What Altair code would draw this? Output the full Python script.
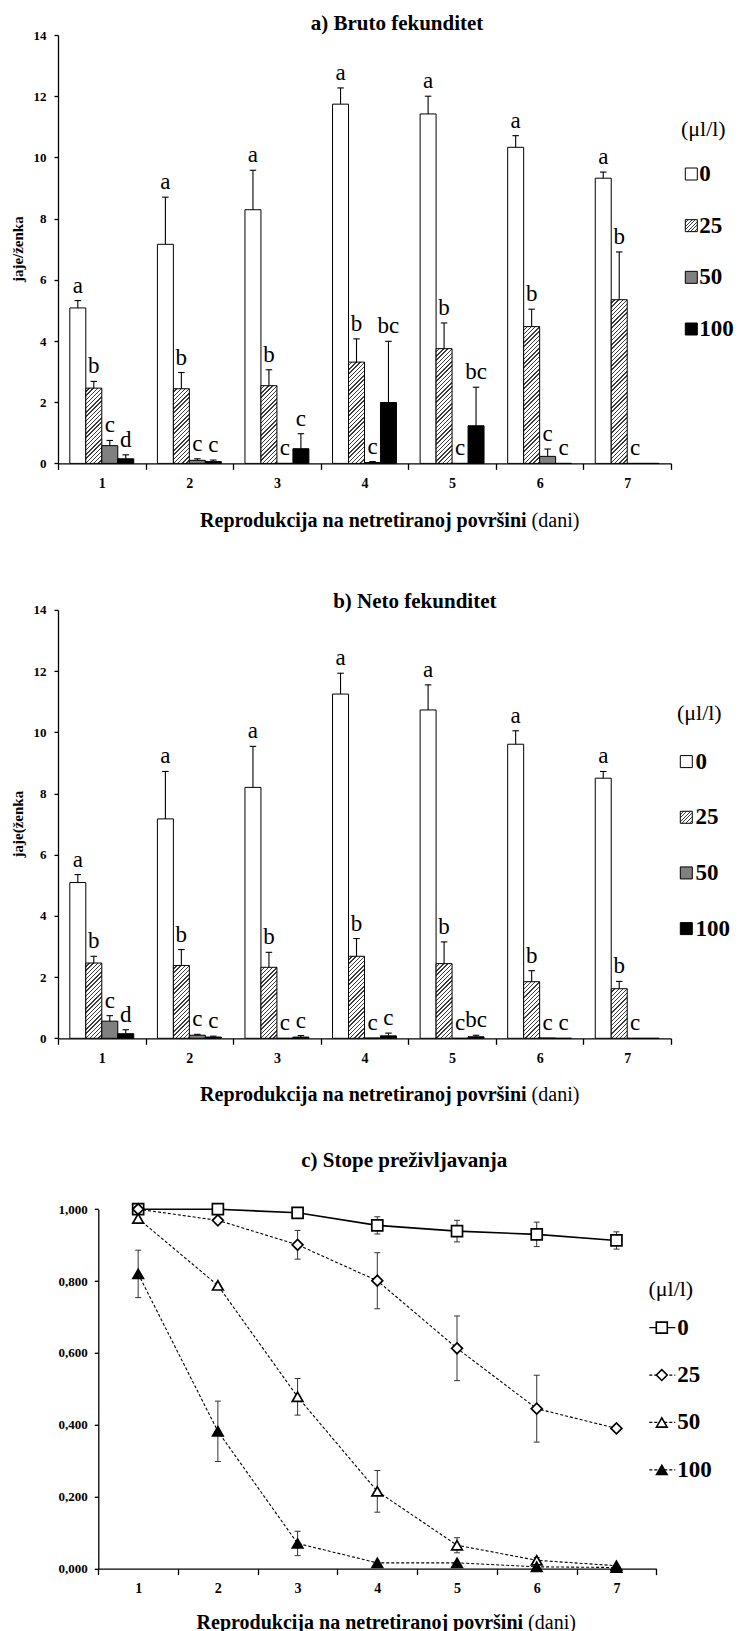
import altair as alt

# ---------------- data ----------------
days = ["1", "2", "3", "4", "5", "6", "7"]
series = ["0", "25", "50", "100"]
series_labels = ["0", "25", "50", "100"]

title_a = "a) Bruto fekunditet"
title_b = "b) Neto fekunditet"
title_c = "c) Stope preživljavanja"
ytitle_a = "jaje/ženka"
ytitle_b = "jaje(ženka"
xtitle_bold = "Reprodukcija na netretiranoj površini"
xtitle_norm = "(dani)"
legend_title = "(μl/l)"

# a) Bruto fekunditet: means and (upper) errors per concentration
bruto_0 = [5.08, 7.16, 8.29, 11.74, 11.42, 10.33, 9.32]
bruto_0_err = [0.24, 1.54, 1.29, 0.53, 0.58, 0.38, 0.20]
bruto_25 = [2.46, 2.44, 2.54, 3.31, 3.75, 4.47, 5.35]
bruto_25_err = [0.22, 0.53, 0.52, 0.76, 0.84, 0.57, 1.56]
bruto_50 = [0.58, 0.10, 0.0, 0.03, 0.0, 0.23, 0.0]
bruto_50_err = [0.17, 0.05, 0.0, 0.03, 0.0, 0.24, 0.0]
bruto_100 = [0.15, 0.06, 0.48, 1.99, 1.23, 0.0, 0.0]
bruto_100_err = [0.13, 0.05, 0.49, 2.00, 1.26, 0.0, 0.0]
bruto_let_0 = ["a", "a", "a", "a", "a", "a", "a"]
bruto_let_25 = ["b", "b", "b", "b", "b", "b", "b"]
bruto_let_50 = ["c", "c", "c", "c", "c", "c", "c"]
bruto_let_100 = ["d", "c", "c", "bc", "bc", "c", ""]

# b) Neto fekunditet
neto_0 = [5.09, 7.17, 8.20, 11.25, 10.73, 9.61, 8.50]
neto_0_err = [0.26, 1.55, 1.34, 0.68, 0.82, 0.44, 0.22]
neto_25 = [2.46, 2.38, 2.32, 2.68, 2.44, 1.85, 1.62]
neto_25_err = [0.22, 0.52, 0.49, 0.58, 0.71, 0.36, 0.24]
neto_50 = [0.56, 0.10, 0.0, 0.01, 0.0, 0.01, 0.0]
neto_50_err = [0.18, 0.03, 0.0, 0.0, 0.0, 0.0, 0.0]
neto_100 = [0.15, 0.04, 0.04, 0.08, 0.05, 0.0, 0.0]
neto_100_err = [0.13, 0.03, 0.05, 0.09, 0.05, 0.0, 0.0]
neto_let_0 = ["a", "a", "a", "a", "a", "a", "a"]
neto_let_25 = ["b", "b", "b", "b", "b", "b", "b"]
neto_let_50 = ["c", "c", "c", "c", "c", "c", "c"]
neto_let_100 = ["d", "c", "c", "c", "bc", "c", ""]

# c) Stope preživljavanja
surv_0 = [1.000, 1.000, 0.990, 0.955, 0.939, 0.930, 0.913]
surv_0_err = [0.0, 0.0, 0.0, 0.024, 0.030, 0.034, 0.024]
surv_25 = [1.000, 0.969, 0.901, 0.801, 0.613, 0.445, 0.390]
surv_25_err = [0.0, 0.0, 0.040, 0.078, 0.090, 0.093, 0.0]
surv_50 = [0.974, 0.788, 0.478, 0.215, 0.065, 0.023, 0.008]
surv_50_err = [0.0, 0.0, 0.051, 0.058, 0.021, 0.008, 0.0]
surv_100 = [0.820, 0.382, 0.070, 0.016, 0.016, 0.005, 0.003]
surv_100_err = [0.066, 0.084, 0.034, 0.0, 0.0, 0.0, 0.0]

# ---------------- layout constants ----------------
FONT = "Liberation Serif"
W_AB = 613.0
H_AB = 428.4
YMAX_AB = 14
PPU = H_AB / YMAX_AB
PAD_OUT = 0.74
BAR_W = (W_AB / len(days)) / (len(series) + 2 * PAD_OUT)
W_C = 598.3
C_LEFT = 40.3
E_C = 24.4
H_C = 359.4 + E_C
SPACING = 145.9
LETTER_SIZE = 23
LEG_SIZE = 23

SOLID_FILL = {"0": "#ffffff", "50": "#808080", "100": "#000000"}


def hatch(w, h, d=4.2, f=0.32, dark="#3c3c3c"):
    """Diagonal '/' hatching as a linear gradient in bounding-box units."""
    if h <= 0:
        return "#ffffff"
    denom = w * w + h * h
    period = d * w / denom
    stops = []
    k = 0
    while True:
        a = k * period
        b = a + (1 - f) * period
        c = (k + 1) * period
        for off, col in [(a, "#ffffff"), (b, "#ffffff"), (b, dark), (c, dark)]:
            stops.append({"offset": round(min(off, 1.0), 6), "color": col})
        k += 1
        if c >= 1.0:
            break
    return {"gradient": "linear", "x1": 0, "y1": 0, "x2": 1, "y2": h / w, "stops": stops}


x_axis = alt.Axis(title="", labelAngle=0, tickBand="extent", tickSize=6,
                  labelPadding=7, labelFontSize=14, domainWidth=1.3, tickWidth=1.3)
y_axis_ab = alt.Axis(title="", values=list(range(0, 15, 2)), tickSize=4, labelPadding=8,
                     labelFontSize=13, domainWidth=1.3, tickWidth=1.3, format="d")
y_axis_c = alt.Axis(title="", values=[0, 0.2, 0.4, 0.6, 0.8, 1.0], tickSize=4, labelPadding=7,
                    labelFontSize=13, domainWidth=1.3, tickWidth=1.3, offset=-C_LEFT,
                    labelExpr="replace(format(datum.value, '.3f'), '.', ',')")


def text_layer(txt, x, y, size, weight="bold", align="center", baseline="middle", angle=0):
    return alt.Chart(alt.Data(values=[{"t": txt}])).mark_text(
        fontSize=size, fontWeight=weight, align=align, baseline=baseline, angle=angle,
        font=FONT, color="black"
    ).encode(x=alt.value(x), y=alt.value(y), text="t:N")


def bar_panel(vals, errs, labs, title, ytitle, lay):
    rows = []
    for si, s in enumerate(series):
        for di, d in enumerate(days):
            v = vals[si][di]
            e = errs[si][di]
            fill = hatch(BAR_W, v * PPU) if s == "25" else SOLID_FILL[s]
            rows.append({"day": d, "series": s, "v": v, "top": round(v + e, 4), "err": e,
                         "lab": labs[si][di], "fill": fill})
    base = alt.Chart(alt.Data(values=rows))
    x = alt.X("day:N", sort=days, scale=alt.Scale(type="band", paddingInner=0, paddingOuter=0), axis=x_axis)
    xo = alt.XOffset("series:N", sort=series,
                     scale=alt.Scale(domain=series, paddingInner=0, paddingOuter=PAD_OUT))
    ysc = alt.Scale(domain=[0, YMAX_AB], nice=False)
    yv = alt.Y("v:Q", stack=None, scale=ysc, axis=y_axis_ab)
    yt = alt.Y("top:Q", scale=ysc, axis=y_axis_ab)

    bars = base.mark_bar(stroke="black", strokeWidth=1).encode(
        x=x, xOffset=xo, y=yv, fill=alt.Fill("fill:N", scale=None, legend=None))
    err = base.transform_filter("datum.err > 0").mark_rule(color="black", strokeWidth=1.1).encode(
        x=x, xOffset=xo, y=yv, y2="top:Q")
    caps = base.transform_filter("datum.err > 0").mark_tick(
        orient="horizontal", size=6.5, thickness=1.1, color="black", opacity=1).encode(
        x=x, xOffset=xo, y=yt)
    letters = base.transform_filter("datum.lab != ''").mark_text(
        fontSize=LETTER_SIZE, font=FONT, baseline="alphabetic", dy=-8, color="black").encode(
        x=x, xOffset=xo, y=yt, text="lab:N")
    plot = alt.layer(bars, err, caps, letters)

    leg_rows = [{"series": s, "label": series_labels[i],
                 "fill": hatch(12, 12, d=3.6) if s == "25" else SOLID_FILL[s]}
                for i, s in enumerate(series)]
    leg = alt.Chart(alt.Data(values=leg_rows))
    ly = alt.Y("series:N", sort=series,
               scale=alt.Scale(type="point", domain=series, range=lay["leg_y"], padding=0), axis=None)
    leg_sym = leg.mark_square(size=144, stroke="black", strokeWidth=1, opacity=1).encode(
        x=alt.value(lay["sym_x"]), y=ly, fill=alt.Fill("fill:N", scale=None, legend=None))
    leg_lab = leg.mark_text(align="left", baseline="middle", fontSize=LEG_SIZE, fontWeight="bold",
                            font=FONT, color="black").encode(x=alt.value(lay["lab_x"]), y=ly, text="label:N")

    return alt.layer(
        plot, leg_sym, leg_lab,
        text_layer(legend_title, lay["lt_x"], lay["lt_y"], 22, weight="normal"),
        text_layer(title, lay["t_x"], lay["t_y"], 21),
        text_layer(ytitle, -40, H_AB / 2, 15, angle=270),
        text_layer(xtitle_bold, lay["xs"], lay["xt_y"], 20, align="right", baseline="alphabetic"),
        text_layer(xtitle_norm, lay["xs"] + 5, lay["xt_y"], 20, weight="normal", align="left",
                   baseline="alphabetic"),
    ).resolve_scale(y="independent").properties(width=W_AB, height=H_AB)


panel_a = bar_panel(
    [bruto_0, bruto_25, bruto_50, bruto_100],
    [bruto_0_err, bruto_25_err, bruto_50_err, bruto_100_err],
    [bruto_let_0, bruto_let_25, bruto_let_50, bruto_let_100],
    title_a, ytitle_a,
    {"leg_y": [139, 294], "sym_x": 633.3, "lab_x": 641.3, "lt_x": 645.3, "lt_y": 94,
     "t_x": 339, "t_y": -10.7, "xs": 468.6, "xt_y": 491.5})

panel_b = bar_panel(
    [neto_0, neto_25, neto_50, neto_100],
    [neto_0_err, neto_25_err, neto_50_err, neto_100_err],
    [neto_let_0, neto_let_25, neto_let_50, neto_let_100],
    title_b, ytitle_b,
    {"leg_y": [151.7, 318.7], "sym_x": 628.3, "lab_x": 637.5, "lt_x": 641.3, "lt_y": 103.4,
     "t_x": 356.8, "t_y": -8.3, "xs": 468.6, "xt_y": 491.5})

# ---------------- panel c ----------------
surv_vals = [surv_0, surv_25, surv_50, surv_100]
surv_errs = [surv_0_err, surv_25_err, surv_50_err, surv_100_err]
rows_c = []
for si, s in enumerate(series):
    for di, d in enumerate(days):
        v = surv_vals[si][di]
        e = surv_errs[si][di]
        rows_c.append({"day": d, "series": s, "v": v, "err": e,
                       "lo": round(v - e, 4), "hi": round(v + e, 4)})
base_c = alt.Chart(alt.Data(values=rows_c))
xc = alt.X("day:N", sort=days,
           scale=alt.Scale(type="band", paddingInner=0, paddingOuter=0, range=[C_LEFT, W_C]),
           axis=x_axis)
ysc_c = alt.Scale(domain=[0, 1], range=[H_C, E_C], nice=False)
yc = alt.Y("v:Q", scale=ysc_c, axis=y_axis_c)
shape_sc = alt.Scale(domain=series, range=["square", "diamond", "triangle-up", "triangle-up"])
fill_sc = alt.Scale(domain=series, range=["white", "white", "white", "black"])

line0 = base_c.transform_filter("datum.series == '0'").mark_line(color="black", strokeWidth=1.6).encode(
    x=xc, y=yc)
lines = base_c.transform_filter("datum.series != '0'").mark_line(
    color="black", strokeWidth=1.1, strokeDash=[3, 2]).encode(x=xc, y=yc, detail="series:N")
err_c = base_c.transform_filter("datum.err > 0").mark_rule(color="#333333", strokeWidth=1).encode(
    x=xc, y=alt.Y("lo:Q", scale=ysc_c, axis=y_axis_c), y2="hi:Q")
cap_lo = base_c.transform_filter("datum.err > 0").mark_tick(
    orient="horizontal", size=6, thickness=1, color="#333333", opacity=1).encode(
    x=xc, y=alt.Y("lo:Q", scale=ysc_c, axis=y_axis_c))
cap_hi = base_c.transform_filter("datum.err > 0").mark_tick(
    orient="horizontal", size=6, thickness=1, color="#333333", opacity=1).encode(
    x=xc, y=alt.Y("hi:Q", scale=ysc_c, axis=y_axis_c))
pts = base_c.mark_point(filled=True, opacity=1, stroke="black", strokeWidth=1.7).encode(
    x=xc, y=yc,
    shape=alt.Shape("series:N", scale=shape_sc, legend=None),
    fill=alt.Fill("series:N", scale=fill_sc, legend=None),
    size=alt.Size("series:O", scale=alt.Scale(domain=series, range=[121, 110, 150, 150]), legend=None))
plot_c = alt.layer(line0, lines, err_c, cap_lo, cap_hi, pts)

leg_c = alt.Chart(alt.Data(values=[{"series": s, "label": series_labels[i]} for i, s in enumerate(series)]))
ly_c = alt.Y("series:N", sort=series,
             scale=alt.Scale(type="point", domain=series, range=[142.8, 285.1], padding=0), axis=None)
leg_line = leg_c.mark_rule(color="black", strokeWidth=1.2).encode(
    x=alt.value(591.3), x2=alt.value(617.3), y=ly_c,
    strokeDash=alt.StrokeDash("series:N", scale=alt.Scale(domain=series, range=[[1, 0], [3, 2], [3, 2], [3, 2]]),
                              legend=None))
leg_pts = leg_c.mark_point(filled=True, opacity=1, stroke="black", strokeWidth=1.6).encode(
    x=alt.value(603.8), y=ly_c,
    shape=alt.Shape("series:N", scale=shape_sc, legend=None),
    fill=alt.Fill("series:N", scale=fill_sc, legend=None),
    size=alt.Size("series:O", scale=alt.Scale(domain=series, range=[100, 90, 90, 90]), legend=None))
leg_lab_c = leg_c.mark_text(align="left", baseline="middle", fontSize=LEG_SIZE, fontWeight="bold",
                            font=FONT, color="black").encode(x=alt.value(619.3), y=ly_c, text="label:N")

panel_c = alt.layer(
    plot_c, leg_line, leg_pts, leg_lab_c,
    text_layer(legend_title, 612.8, 104.1, 22, weight="normal"),
    text_layer(title_c, 346.3, -23.9, 21),
    text_layer(xtitle_bold, 465.1, 444.1, 20, align="right", baseline="alphabetic"),
    text_layer(xtitle_norm, 470.1, 444.1, 20, weight="normal", align="left", baseline="alphabetic"),
).resolve_scale(y="independent").properties(width=W_C, height=H_C)

chart = alt.vconcat(panel_a, panel_b, panel_c, spacing=SPACING, bounds="flush").properties(
    padding={"left": 3, "top": 5, "right": 0, "bottom": 0}
).configure_view(stroke=None).configure_axis(
    domainColor="black", tickColor="black", labelColor="black", labelFont=FONT,
    labelFontWeight="bold", grid=False
)

chart.save("out.html", embed_options={"renderer": "svg", "actions": False})
